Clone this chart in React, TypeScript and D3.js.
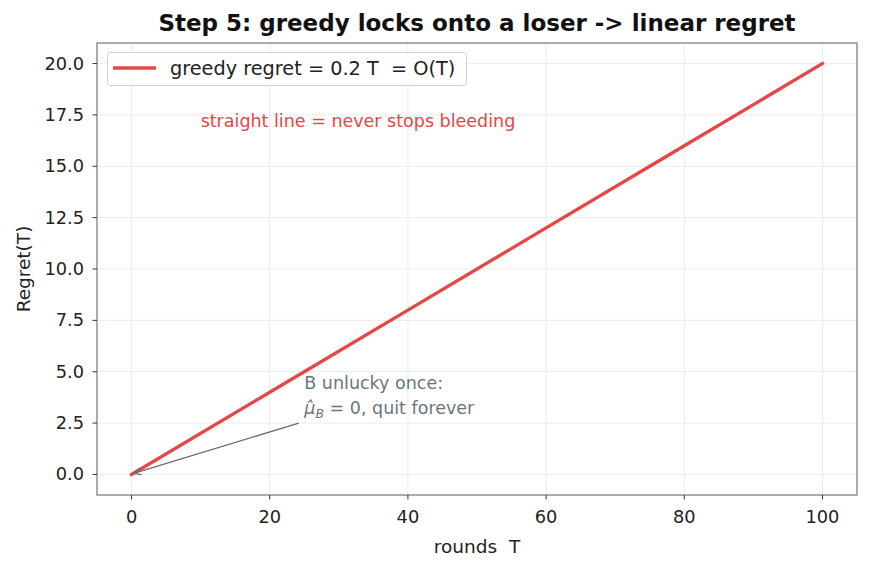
import React from "react";
import * as d3 from "d3";

const rounds = [0, 20, 40, 60, 80, 100];
const regret = [0, 4, 8, 12, 16, 20];
const xTicks = [0, 20, 40, 60, 80, 100];
const yTicks = [0, 2.5, 5, 7.5, 10, 12.5, 15, 17.5, 20];
const title = "Step 5: greedy locks onto a loser -> linear regret";
const legendLabel = "greedy regret = 0.2 T  = O(T)";

const W = 871;
const H = 569;
const M = { left: 97, right: 14, top: 43, bottom: 74 };
const RED = "#e84545";
const FONT = "'DejaVu Sans', sans-serif";
const PRE = { whiteSpace: "pre" as const };

export default function App() {
  const x = d3.scaleLinear().domain([-5, 105]).range([M.left, W - M.right]);
  const y = d3.scaleLinear().domain([-1, 21]).range([H - M.bottom, M.top]);
  const pts = rounds.map((r, i) => [r, regret[i]] as [number, number]);
  const line = d3.line<[number, number]>().x((d) => x(d[0])).y((d) => y(d[1]));
  const x0 = M.left, x1 = W - M.right, y0 = M.top, y1 = H - M.bottom;

  // arrow from annotation text toward origin
  const ax0 = x(24.2), ay0 = y(2.5);
  const ax1 = x(0.3), ay1 = y(0.05);
  const ang = Math.atan2(ay1 - ay0, ax1 - ax0);
  const hl = 8, hw = 0.45;
  const head = `M${ax1 - hl * Math.cos(ang - hw)},${ay1 - hl * Math.sin(ang - hw)} L${ax1},${ay1} L${ax1 - hl * Math.cos(ang + hw)},${ay1 - hl * Math.sin(ang + hw)}`;

  return (
    <svg width={W} height={H} style={{ position: "absolute", left: 0, top: 0, background: "#fff", fontFamily: FONT }}>
      <rect x={0} y={0} width={W} height={H} fill="#fff" />
      {xTicks.map((t) => (
        <line key={"gx" + t} x1={x(t)} x2={x(t)} y1={y0} y2={y1} stroke="#e3e8ec" strokeWidth={0.8} />
      ))}
      {yTicks.map((t) => (
        <line key={"gy" + t} x1={x0} x2={x1} y1={y(t)} y2={y(t)} stroke="#e3e8ec" strokeWidth={0.8} />
      ))}
      <path d={line(pts) || ""} fill="none" stroke={RED} strokeWidth={3.3} strokeLinecap="square" />
      <rect x={x0} y={y0} width={x1 - x0} height={y1 - y0} fill="none" stroke="#808080" strokeWidth={1.3} />
      {xTicks.map((t) => (
        <g key={"tx" + t}>
          <line x1={x(t)} x2={x(t)} y1={y1} y2={y1 + 4.5} stroke="#333" strokeWidth={1} />
          <text x={x(t)} y={y1 + 28} textAnchor="middle" fontSize={17.8} fill="#222">{t}</text>
        </g>
      ))}
      {yTicks.map((t) => (
        <g key={"ty" + t}>
          <line x1={x0 - 4.5} x2={x0} y1={y(t)} y2={y(t)} stroke="#333" strokeWidth={1} />
          <text x={x0 - 13} y={y(t) + 6} textAnchor="end" fontSize={17.8} fill="#222">{t.toFixed(1)}</text>
        </g>
      ))}
      <text x={(x0 + x1) / 2} y={553} textAnchor="middle" fontSize={18.5} fill="#222" style={PRE}>rounds  T</text>
      <text transform={`translate(30,${(y0 + y1) / 2}) rotate(-90)`} textAnchor="middle" fontSize={18.5} fill="#222">Regret(T)</text>
      <text x={(x0 + x1) / 2} y={31} textAnchor="middle" fontSize={23} fontWeight="bold" fill="#111">{title}</text>

      <g>
        <rect x={107.5} y={52.5} width={359} height={33} rx={3} fill="#fff" fillOpacity={0.85} stroke="#d0d0d0" strokeWidth={1} />
        <line x1={113} x2={156} y1={68} y2={68} stroke={RED} strokeWidth={3.3} />
        <text x={170} y={75} fontSize={19.3} fill="#222" style={PRE}>{legendLabel}</text>
      </g>

      <text x={x(10)} y={y(17) + 2} fontSize={17.5} fill={RED}>straight line = never stops bleeding</text>

      <line x1={ax0} y1={ay0} x2={ax1} y2={ay1} stroke="#6b6b6b" strokeWidth={1.3} />
      <path d={head} fill="none" stroke="#6b6b6b" strokeWidth={1.3} />
      <text x={x(25)} y={389} fontSize={17.5} fill="#6c757d">B unlucky once:</text>
      <text x={x(25)} y={414} fontSize={17.5} fill="#6c757d">
        <tspan fontStyle="italic">μ̂</tspan>
        <tspan fontStyle="italic" fontSize={12.5} dy={4}>B</tspan>
        <tspan dy={-4}> = 0, quit forever</tspan>
      </text>
    </svg>
  );
}
